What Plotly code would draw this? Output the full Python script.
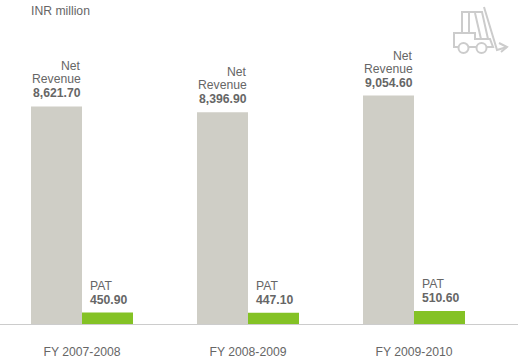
import plotly.graph_objects as go

categories = ["FY 2007-2008", "FY 2008-2009", "FY 2009-2010"]
net_revenue = [8621.70, 8396.90, 9054.60]
pat = [450.90, 447.10, 510.60]
unit_label = "INR million"

W, H = 518, 361
MB = 37
PH = H - MB
GREY_TXT = "#666666"
FONT = "Liberation Sans, Arial, sans-serif"
FS = 12.2

fig = go.Figure()
fig.add_bar(x=categories, y=net_revenue, name="Net Revenue", marker=dict(color="#cfcec6", line_width=0), hoverinfo="skip")
fig.add_bar(x=categories, y=pat, name="PAT", marker=dict(color="#84c225", line_width=0), hoverinfo="skip")

anns = []
def label(text, cat, val, xanchor, xshift, yshift, bold=False):
    anns.append(dict(x=cat, y=val, xref="x", yref="y", text=f"<b>{text}</b>" if bold else text,
                     showarrow=False, xanchor=xanchor, yanchor="middle", xshift=xshift, yshift=yshift,
                     font=dict(family=FONT, size=FS, color=GREY_TXT), align="left"))
for c, n, p in zip(categories, net_revenue, pat):
    label("Net", c, n, "right", 1, 40)
    label("Revenue", c, n, "right", 1, 27)
    label(f"{n:,.2f}", c, n, "right", 1, 13, True)
    label("PAT", c, p, "left", 6, 27)
    label(f"{p:,.2f}", c, p, "left", 6, 13, True)
anns.append(dict(x=29 / W, y=1 - 11 / PH, xref="paper", yref="paper", text=unit_label, showarrow=False,
                 xanchor="left", yanchor="middle", font=dict(family=FONT, size=FS, color=GREY_TXT)))

def px(x): return x / W
def py(y): return 1 - y / PH
def path(pts, close=False):
    s = "M" + " L".join(f"{px(x):.5f},{py(y):.5f}" for x, y in pts)
    return s + (" Z" if close else "")

ICON = dict(color="#cccccc", width=2)
icon_paths = [
    [(462, 32), (462, 12), (482, 12), (488, 39)],
    [(475, 13), (481, 39)],
    [(469, 13), (469, 32)],
    [(458, 47), (454, 47), (454, 33), (475, 33), (475, 39), (490, 39), (493, 47), (487, 47)],
    [(469, 47), (476, 47)],
    [(484, 7), (497, 50), (507, 47)],
    [(499, 43), (507, 47), (501, 52)],
]
shapes = [dict(type="path", xref="paper", yref="paper", path=path(p), line=ICON) for p in icon_paths]
for cx in (463.5, 481.5):
    shapes.append(dict(type="circle", xref="paper", yref="paper", x0=px(cx - 5), x1=px(cx + 5),
                       y0=py(53), y1=py(43), line=ICON))

fig.update_layout(
    width=W, height=H, autosize=False, margin=dict(l=0, r=0, t=0, b=MB),
    paper_bgcolor="white", plot_bgcolor="white", showlegend=False,
    barmode="group", bargap=64 / 166, bargroupgap=0,
    annotations=anns, shapes=shapes,
    font=dict(family=FONT, size=FS, color=GREY_TXT),
    xaxis=dict(type="category", range=[-82 / 166, (W - 82) / 166], showgrid=False, zeroline=False,
               showline=True, linecolor="#cccccc", linewidth=1, ticks="", ticklabelstandoff=16,
               tickfont=dict(family=FONT, size=FS, color=GREY_TXT), automargin=False),
    yaxis=dict(range=[0, PH / 0.02523], visible=False, automargin=False),
)
fig.write_html("out.html", config=dict(displayModeBar=False),
               post_script="document.body.style.margin='0';document.body.style.overflow='hidden';")
